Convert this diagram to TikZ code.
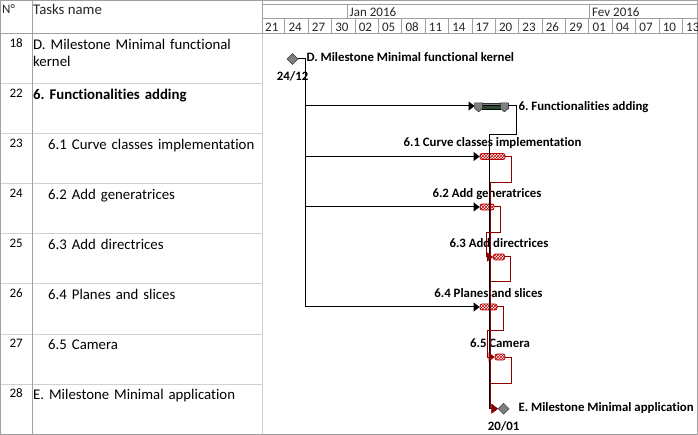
\documentclass[tikz,border=0pt]{standalone}
\usepackage{fontspec}
\setmainfont{Carlito}[Ligatures = NoCommon]
\usepackage{tikz}
\usetikzlibrary{shapes}
\usetikzlibrary{arrows.meta}
\usetikzlibrary{positioning}
\usetikzlibrary{patterns}
\definecolor{framegray}{HTML}{A0A0A0}
\definecolor{rowgray}{HTML}{D0D0D0}
\definecolor{critred}{HTML}{8B0000}
\definecolor{barred}{HTML}{C00000}
\definecolor{sumgray}{HTML}{808080}
\definecolor{sumgreen}{HTML}{2E4A2E}
\frenchspacing

\begin{document}
\begin{tikzpicture}[
        x = 1pt, y = -1pt,
        gridline/.style = {draw = framegray, line width = 1pt},
        rowline/.style = {draw = rowgray, line width = 1pt},
        headtext/.style = {font = \fontsize{13}{15}\selectfont, text = black!85, inner sep = 0pt, anchor = base west},
        tasknum/.style = {font = \fontsize{13}{15}\selectfont, inner sep = 0pt, anchor = base east},
        tasktext/.style = {font = \fontsize{14.8}{17.5}\selectfont, inner sep = 0pt, anchor = base west,
                           text width = 225pt, align = left},
        barlabel/.style = {font = \fontsize{12.8}{15}\selectfont\bfseries, inner sep = 0pt,
                           text height = 9pt, text depth = 3pt},
        taskbar/.style = {draw = barred, pattern = crosshatch, pattern color = barred, rounded corners = 2pt,
                          minimum height = 6pt, inner sep = 0pt, line width = 0.8pt},
        sumbar/.style = {draw = black!80, fill = sumgray, minimum height = 5.5pt, inner sep = 0pt, line width = 0.8pt},
        milestone/.style = {diamond, draw = black!70, fill = sumgray, minimum size = 11pt, inner sep = 0pt, line width = 0.6pt},
        linkblack/.style = {draw = black, line width = 1pt, -{Triangle[length = 6pt, width = 9pt]}},
        linkcrit/.style = {draw = critred, line width = 1pt, -{Triangle[length = 6pt, width = 9pt]}},
        ]
        \useasboundingbox (0,0) rectangle (698,435);

        % table and timescale
        \foreach \y in {84,134,...,384}
            \draw[rowline] (0,\y) -- (262,\y);
        \draw[rowline] (262,34) -- (262,435);
        \draw[gridline] (32,0) -- (32,435);
        \draw[gridline] (262,0) -- (262,34);
        \draw[gridline] (0,33.5) -- (698,33.5);
        \draw[gridline] (262,4.5) -- (698,4.5);
        \draw[gridline] (262,18.5) -- (698,18.5);
        \draw[gridline] (347.3,4.5) -- (347.3,18.5);
        \draw[gridline] (589,4.5) -- (589,18.5);
        \foreach \k in {1,...,18}
            \draw[gridline] (261.5+23.39*\k,18.5) -- (261.5+23.39*\k,33.5);
        \draw[gridline] (0.5,0.5) rectangle (697.5,434.5);

        \node[headtext] (numhead) at (2,14) {N°};
        \node[headtext, font = \fontsize{14.8}{17.5}\selectfont] (namehead) at (33,14.7) {Tasks name};
        \node[headtext] (jan) at (349.5,17) {Jan 2016};
        \node[headtext] (fev) at (592,17) {Fev 2016};
        \foreach \dlab [count = \k from 0] in {21,24,27,30,02,05,08,11,14,17,20,23,26,29,01,04,07,10,13}
            \node[headtext] (day\k) at (265+23.39*\k,32) {\dlab};

        \foreach \num/\row in {18/0,22/1,23/2,24/3,25/4,26/5,27/6,28/7}
            \node[tasknum] (num\num) at (23,47.3+50*\row) {\num};
        \node[tasktext] (name18) at (33,49.3) {D. Milestone Minimal functional\\kernel};
        \node[tasktext, font = \fontsize{14.8}{17.5}\selectfont\bfseries] (name22) at (33,99.3) {6. Functionalities adding};
        \node[tasktext] (name23) at (48,149.3) {6.1 Curve classes implementation};
        \node[tasktext] (name24) at (48,199.3) {6.2 Add generatrices};
        \node[tasktext] (name25) at (48,249.3) {6.3 Add directrices};
        \node[tasktext] (name26) at (48,299.3) {6.4 Planes and slices};
        \node[tasktext] (name27) at (48,349.3) {6.5 Camera};
        \node[tasktext] (name28) at (33,399.3) {E. Milestone Minimal application};

        % gantt bars
        \node[milestone] (msD) at (292.5,59) {};
        \node[sumbar, minimum width = 33pt] (t6) at (491.5,106) {};
        \fill[sumgreen, draw = black] ([xshift = 8pt, yshift = -2pt]t6.north west) rectangle ([xshift = -8pt]t6.south east);
        \filldraw[fill = sumgray, draw = black!80, line width = 0.6pt]
            (t6.north west) -- ++(8,0) -- ++(0,5.5) -- ++(-4,3.5) -- ++(-4,-3.5) -- cycle;
        \filldraw[fill = sumgray, draw = black!80, line width = 0.6pt]
            (t6.north east) -- ++(-8,0) -- ++(0,5.5) -- ++(4,3.5) -- ++(4,-3.5) -- cycle;
        \node[taskbar, minimum width = 25pt] (t61) at (492.5,156.5) {};
        \node[taskbar, minimum width = 14pt] (t62) at (487,207) {};
        \node[taskbar, minimum width = 11pt] (t63) at (499,257) {};
        \node[taskbar, minimum width = 17pt] (t64) at (488.5,307) {};
        \node[taskbar, minimum width = 10pt] (t65) at (500,357) {};
        \node[milestone] (msE) at (503.5,408.7) {};

        \node[barlabel, right = 8pt of msD] (labD) {D. Milestone Minimal functional kernel};
        \node[barlabel, below = 7pt of msD] (dateD) {24/12};
        \node[barlabel, right = 10pt of t6, yshift = -2pt] (lab6) {6. Functionalities adding};
        \node[barlabel, above = 3pt of t61] (lab61) {6.1 Curve classes implementation};
        \node[barlabel, above = 3pt of t62] (lab62) {6.2 Add generatrices};
        \node[barlabel, above = 3pt of t63] (lab63) {6.3 Add directrices};
        \node[barlabel, above = 3pt of t64] (lab64) {6.4 Planes and slices};
        \node[barlabel, above = 3pt of t65] (lab65) {6.5 Camera};
        \node[barlabel, right = 9pt of msE] (labE) {E. Milestone Minimal application};
        \node[barlabel, below = 7pt of msE] (dateE) {20/01};

        % links
        \coordinate (dfork) at ([xshift = 7.5pt]msD.east);
        \draw[linkblack] (msD.east) -- (dfork) |- (t6.west);
        \draw[linkblack] (dfork) |- (t61.west);
        \draw[linkblack] (dfork) |- (t62.west);
        \draw[linkblack] (dfork) |- (t64.west);
        \draw[linkblack] (t6.east) -- ++(8,0) -- ++(0,29) -| ([xshift = -8pt]msE.west) -- (msE.west);
        \draw[linkcrit] (t61.east) -- ++(6,0) -- ++(0,26.5) -| ([xshift = -7pt]msE.west) -- (msE.west);
        \draw[linkcrit] (t62.east) -- ++(6,0) -- ++(0,26) -| ([xshift = -6.5pt]t63.west) -- (t63.west);
        \draw[linkcrit] (t63.east) -- ++(6,0) -- ++(0,25) -| ([xshift = -7pt]msE.west) -- (msE.west);
        \draw[linkcrit] (t64.east) -- ++(6,0) -- ++(0,23) -| ([xshift = -7pt]t65.west) -- (t65.west);
        \draw[linkcrit] (t65.east) -- ++(6,0) -- ++(0,26) -| ([xshift = -7pt]msE.west) -- (msE.west);
    \end{tikzpicture}
\end{document}
